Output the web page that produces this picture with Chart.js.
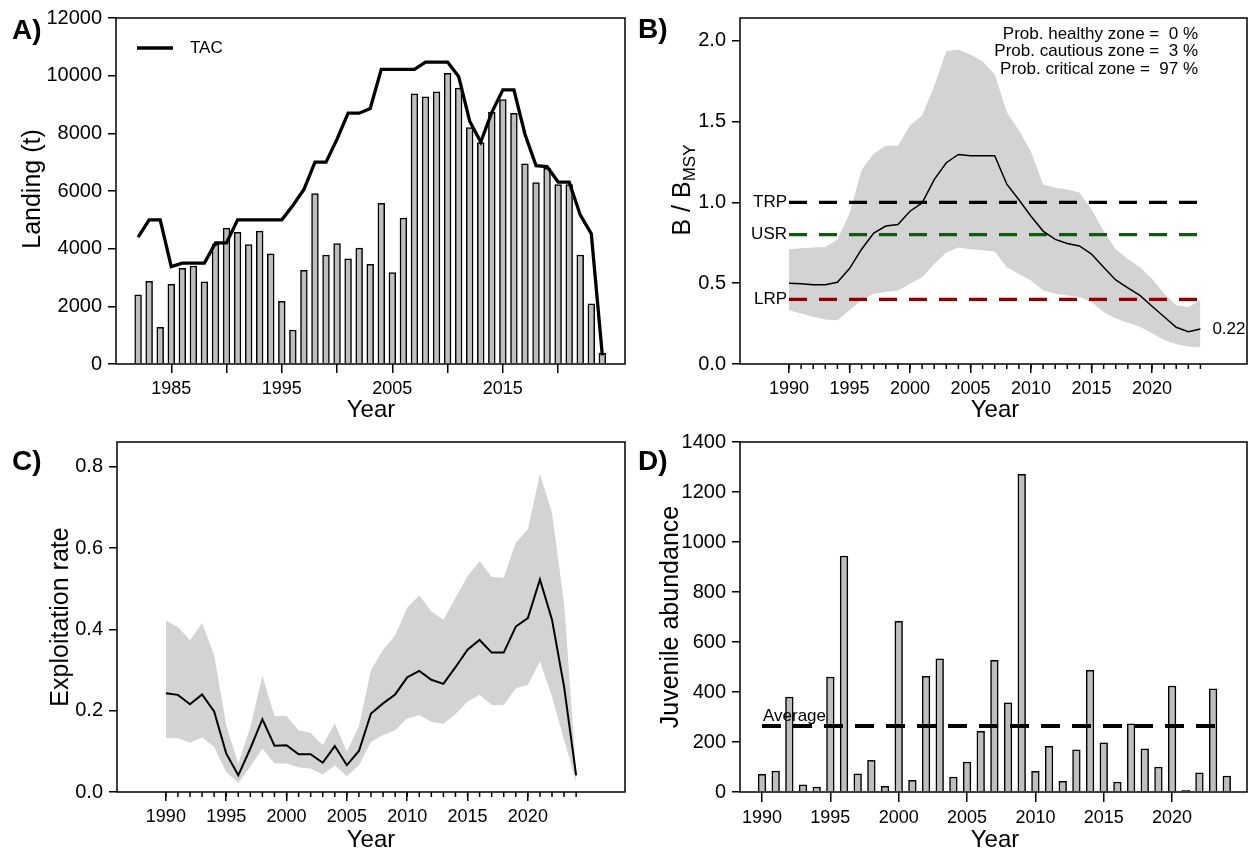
<!DOCTYPE html>
<html>
<head>
<meta charset="utf-8">
<script src="https://cdn.jsdelivr.net/npm/chart.js@4.4.1/dist/chart.umd.min.js"></script>
<style>
  body { margin: 0; background: #fff; }
  #wrap { position: relative; width: 1248px; height: 850px; }
  canvas { position: absolute; left: 0; top: 0; }
</style>
</head>
<body>
<div id="wrap">
  <canvas id="cA" width="1248" height="850"></canvas>
  <canvas id="cB" width="1248" height="850"></canvas>
  <canvas id="cC" width="1248" height="850"></canvas>
  <canvas id="cD" width="1248" height="850"></canvas>
</div>
<script>
// --- data ---
const landYears = [];
for (let y = 1982; y <= 2024; y++) landYears.push(y);
const landings = [2400, 2870, 1270, 2760, 3320, 3400, 2850, 4150, 4710, 4570, 4140, 4610, 3820, 2170, 1180, 3250, 5910, 3780,
  4180, 3650, 4020, 3460, 5570, 3170, 5060, 9370, 9270, 9440, 10080, 9570, 8200, 7680, 8730, 9170, 8690, 6940, 6290, 6790, 6220, 6220, 3780, 2090, 380];
const tac = [4400, 5000, 5000, 3380, 3500, 3500, 3500, 4200, 4200, 5000, 5000, 5000, 5000, 5000, 5500, 6050, 7000, 7000,
  7800, 8700, 8700, 8860, 10220, 10220, 10220, 10220, 10470, 10470, 10470, 9970, 8420, 7700, 8730, 9510, 9510, 7970, 6880, 6850, 6310, 6310, 5170, 4520, 300];

const years = [];
for (let y = 1990; y <= 2024; y++) years.push(y);

const bMed = [0.50, 0.496, 0.49, 0.49, 0.505, 0.59, 0.71, 0.81, 0.853, 0.863,
  0.945, 0.996, 1.14, 1.245, 1.296, 1.288, 1.288, 1.288, 1.112, 1.016,
  0.914, 0.822, 0.771, 0.745, 0.73, 0.68, 0.598, 0.52, 0.471, 0.424,
  0.357, 0.292, 0.227, 0.20, 0.216];
const bUpper = [0.71, 0.716, 0.72, 0.724, 0.77, 0.93, 1.2, 1.30, 1.35, 1.35,
  1.475, 1.537, 1.72, 1.935, 1.945, 1.914, 1.873, 1.79, 1.557, 1.445,
  1.312, 1.11, 1.09, 1.08, 1.06, 0.955, 0.822, 0.71, 0.649, 0.598,
  0.527, 0.435, 0.363, 0.353, 0.394];
const bLower = [0.333, 0.312, 0.292, 0.276, 0.271, 0.333, 0.394, 0.435, 0.445, 0.455,
  0.496, 0.537, 0.618, 0.69, 0.72, 0.71, 0.704, 0.696, 0.598, 0.557,
  0.516, 0.455, 0.435, 0.424, 0.414, 0.384, 0.322, 0.282, 0.255, 0.231,
  0.19, 0.149, 0.122, 0.108, 0.104];
const refPoints = [
  { name: 'TRP', value: 1.0, color: '#000000' },
  { name: 'USR', value: 0.8, color: '#006400' },
  { name: 'LRP', value: 0.4, color: '#8B0000' }
];
const zoneText = ['Prob. healthy zone =  0 %', 'Prob. cautious zone =  3 %', 'Prob. critical zone =  97 %'];

const cMed = [0.243, 0.239, 0.216, 0.240, 0.198, 0.095, 0.041, 0.107, 0.179, 0.114,
  0.115, 0.093, 0.093, 0.072, 0.113, 0.066, 0.101, 0.193, 0.218, 0.240,
  0.282, 0.298, 0.276, 0.266, 0.307, 0.350, 0.374, 0.343, 0.343, 0.407,
  0.428, 0.523, 0.424, 0.259, 0.041];
const cUpper = [0.421, 0.406, 0.373, 0.416, 0.337, 0.165, 0.07, 0.16, 0.286, 0.187,
  0.187, 0.152, 0.146, 0.115, 0.169, 0.099, 0.162, 0.300, 0.350, 0.385,
  0.453, 0.484, 0.444, 0.424, 0.477, 0.531, 0.568, 0.529, 0.527, 0.613,
  0.646, 0.782, 0.687, 0.465, 0.053];
const cLower = [0.133, 0.132, 0.121, 0.134, 0.111, 0.049, 0.023, 0.062, 0.107, 0.07,
  0.07, 0.06, 0.058, 0.043, 0.066, 0.039, 0.066, 0.123, 0.14, 0.152,
  0.181, 0.189, 0.173, 0.167, 0.192, 0.222, 0.239, 0.214, 0.214, 0.255,
  0.263, 0.321, 0.235, 0.128, 0.025];

const juvenile = [71, 84, 380, 29, 20, 460, 944, 73, 127, 23,
  683, 47, 463, 533, 60, 120, 243, 527, 357, 1271,
  83, 183, 43, 169, 487, 197, 40, 273, 173, 100,
  424, 7, 77, 413, 64];
const juvAverage = 264;

const ticksA = [1985, 1990, 1995, 2000, 2005, 2010, 2015, 2020];
const ticks5 = [1990, 1995, 2000, 2005, 2010, 2015, 2020];
const yTicksA = [0, 2000, 4000, 6000, 8000, 10000, 12000];
const yTicksB = [0, 0.5, 1.0, 1.5, 2.0];
const yTicksC = [0, 0.2, 0.4, 0.6, 0.8];
const yTicksD = [0, 200, 400, 600, 800, 1000, 1200, 1400];

// --- helpers ---
const FONT = '"Liberation Sans", Arial, Helvetica, sans-serif';
Chart.defaults.font.family = FONT;
Chart.defaults.color = '#000';
const Y_W = 70, X_H = 40;
const BAND = 'rgb(211,211,211)';
const BARFILL = '#BEBEBE';

const pts = (xs, ys) => xs.map((x, i) => ({ x: x, y: ys[i] }));

function padFor(l, t, r, b) {
  return { left: l - Y_W, top: t, right: 1248 - r, bottom: 850 - b - X_H };
}

function xAxis(min, max, ticks, label, tickLen) {
  return {
    type: 'linear', min: min, max: max, offset: false,
    afterBuildTicks: s => { s.ticks = ticks.map(v => ({ value: v })); },
    afterFit: s => { s.height = X_H; },
    grid: { drawOnChartArea: false, drawTicks: true, tickLength: tickLen, color: '#000', lineWidth: 1.5, offset: false },
    border: { display: false },
    ticks: { autoSkip: false, maxRotation: 0, padding: 5, font: { size: 18 }, callback: label }
  };
}

function yAxis(min, max, ticks, fmt) {
  return {
    type: 'linear', min: min, max: max,
    afterBuildTicks: s => { s.ticks = ticks.map(v => ({ value: v })); },
    afterFit: s => { s.width = Y_W; },
    grid: { drawOnChartArea: false, drawTicks: true, tickLength: 8, color: '#000', lineWidth: 1.5 },
    border: { display: false },
    ticks: { padding: 6, font: { size: 20 }, callback: fmt }
  };
}

function vText(ctx, text, x, y, size) {
  ctx.save();
  ctx.translate(x, y);
  ctx.rotate(-Math.PI / 2);
  ctx.font = size + 'px ' + FONT;
  ctx.textAlign = 'center';
  ctx.textBaseline = 'alphabetic';
  ctx.fillText(text, 0, 0);
  ctx.restore();
}

function text(ctx, s, x, y, size, align, base, bold) {
  ctx.font = (bold ? 'bold ' : '') + size + 'px ' + FONT;
  ctx.textAlign = align || 'left';
  ctx.textBaseline = base || 'alphabetic';
  ctx.fillStyle = '#000';
  ctx.fillText(s, x, y);
}

// box around the plot, yearly minor ticks, plus panel texts
function framePlugin(minor, draw) {
  return {
    id: 'frame',
    afterDraw(chart) {
      const ctx = chart.ctx, a = chart.chartArea, xs = chart.scales.x;
      ctx.save();
      ctx.strokeStyle = '#000';
      ctx.lineWidth = 1.5;
      ctx.strokeRect(a.left, a.top, a.right - a.left, a.bottom - a.top);
      minor.forEach(v => {
        const px = xs.getPixelForValue(v);
        ctx.beginPath();
        ctx.moveTo(px, a.bottom);
        ctx.lineTo(px, a.bottom + 5);
        ctx.stroke();
      });
      ctx.fillStyle = '#000';
      draw(chart, ctx);
      ctx.restore();
    }
  };
}

const baseOpts = (pad) => ({
  responsive: false,
  animation: false,
  devicePixelRatio: 1,
  layout: { padding: pad },
  plugins: { legend: { display: false }, tooltip: { enabled: false }, filler: { drawTime: 'beforeDatasetsDraw' } }
});

// --- A) landings and TAC ---
new Chart(document.getElementById('cA'), {
  type: 'line',
  data: {
    datasets: [
      { type: 'line', data: pts(landYears, tac), borderColor: '#000', borderWidth: 3.3, pointRadius: 0, tension: 0, order: 0 },
      { type: 'bar', data: pts(landYears, landings), backgroundColor: BARFILL, borderColor: '#000', borderWidth: 1.5,
        barThickness: 6.8, order: 1 }
    ]
  },
  options: Object.assign(baseOpts(padFor(116, 14, 625, 364)), {
    scales: {
      x: xAxis(1980, 2026.05, ticksA, v => (v % 10 === 5 ? String(v) : ''), 9),
      y: yAxis(0, 12000, yTicksA, v => String(v))
    }
  }),
  plugins: [framePlugin([], (chart, ctx) => {
    ctx.lineWidth = 3.3;
    ctx.beginPath(); ctx.moveTo(137, 48); ctx.lineTo(173, 48); ctx.stroke();
    text(ctx, 'TAC', 190, 48, 17, 'left', 'middle');
    text(ctx, 'A)', 12, 39, 28, 'left', 'alphabetic', true);
    text(ctx, 'Year', 371, 417, 24, 'center');
    vText(ctx, 'Landing (t)', 40, 189, 25);
  })]
});

// --- B) B / BMSY ---
const refSets = refPoints.map(r => ({
  data: [{ x: years[0], y: r.value }, { x: years[years.length - 1], y: r.value }],
  borderColor: r.color, borderWidth: 3.2, borderDash: [18, 12], pointRadius: 0, order: 1
}));
new Chart(document.getElementById('cB'), {
  type: 'line',
  data: {
    datasets: [
      { data: pts(years, bMed), borderColor: '#000', borderWidth: 1.5, pointRadius: 0, tension: 0, order: 0 },
      ...refSets,
      { data: pts(years, bUpper), borderWidth: 0, pointRadius: 0, fill: false, order: 2 },
      { data: pts(years, bLower), borderWidth: 0, pointRadius: 0, fill: '-1', backgroundColor: BAND, order: 2 }
    ]
  },
  options: Object.assign(baseOpts(padFor(740, 14, 1247, 364)), {
    scales: {
      x: xAxis(1985.95, 2027.85, ticks5, v => String(v), 9),
      y: yAxis(0, 2.14, yTicksB, v => v.toFixed(1))
    }
  }),
  plugins: [framePlugin(years, (chart, ctx) => {
    const xs = chart.scales.x, ys = chart.scales.y;
    refPoints.forEach(r => text(ctx, r.name, xs.getPixelForValue(years[0]) - 2, ys.getPixelForValue(r.value), 17, 'right', 'middle'));
    zoneText.forEach((s, i) => text(ctx, s, 1198, 39 + i * 17.3, 17, 'right'));
    const last = bMed[bMed.length - 1];
    text(ctx, last.toFixed(2), xs.getPixelForValue(years[years.length - 1]) + 12, ys.getPixelForValue(last), 17, 'left', 'middle');
    text(ctx, 'B)', 638, 38, 28, 'left', 'alphabetic', true);
    text(ctx, 'Year', 995, 417, 24, 'center');
    // y title with subscript
    ctx.save();
    ctx.translate(690, 190);
    ctx.rotate(-Math.PI / 2);
    ctx.font = '25px ' + FONT;
    const w1 = ctx.measureText('B / B').width;
    ctx.font = '17px ' + FONT;
    const w2 = ctx.measureText('MSY').width;
    const x0 = -(w1 + w2) / 2;
    text(ctx, 'B / B', x0, 0, 25, 'left');
    text(ctx, 'MSY', x0 + w1, 5, 17, 'left');
    ctx.restore();
  })]
});

// --- C) exploitation rate ---
new Chart(document.getElementById('cC'), {
  type: 'line',
  data: {
    datasets: [
      { data: pts(years, cMed), borderColor: '#000', borderWidth: 2, pointRadius: 0, tension: 0, order: 0 },
      { data: pts(years, cUpper), borderWidth: 0, pointRadius: 0, fill: false, order: 2 },
      { data: pts(years, cLower), borderWidth: 0, pointRadius: 0, fill: '-1', backgroundColor: BAND, order: 2 }
    ]
  },
  options: Object.assign(baseOpts(padFor(117, 442, 625, 792)), {
    scales: {
      x: xAxis(1985.95, 2028.05, ticks5, v => String(v), 9),
      y: yAxis(0, 0.861, yTicksC, v => v.toFixed(1))
    }
  }),
  plugins: [framePlugin(years, (chart, ctx) => {
    text(ctx, 'C)', 12, 470, 28, 'left', 'alphabetic', true);
    text(ctx, 'Year', 371, 847, 24, 'center');
    vText(ctx, 'Exploitation rate', 68, 617, 25);
  })]
});

// --- D) juvenile abundance ---
new Chart(document.getElementById('cD'), {
  type: 'line',
  data: {
    datasets: [
      { type: 'line', data: [{ x: years[0], y: juvAverage }, { x: years[years.length - 1], y: juvAverage }],
        borderColor: '#000', borderWidth: 4, borderDash: [19, 12], pointRadius: 0, order: 0 },
      { type: 'bar', data: pts(years, juvenile), backgroundColor: BARFILL, borderColor: '#000', borderWidth: 1.5,
        barThickness: 7.7, order: 1 }
    ]
  },
  options: Object.assign(baseOpts(padFor(740, 442, 1247, 792)), {
    scales: {
      x: xAxis(1988.39, 2025.48, ticks5, v => String(v), 10),
      y: yAxis(0, 1400, yTicksD, v => String(v))
    }
  }),
  plugins: [framePlugin([], (chart, ctx) => {
    const xs = chart.scales.x, ys = chart.scales.y;
    text(ctx, 'Average', xs.getPixelForValue(years[0]) + 1, ys.getPixelForValue(juvAverage) - 5, 17, 'left');
    text(ctx, 'D)', 638, 470, 28, 'left', 'alphabetic', true);
    text(ctx, 'Year', 995, 847, 24, 'center');
    vText(ctx, 'Juvenile abundance', 678, 617, 25);
  })]
});
</script>
</body>
</html>
